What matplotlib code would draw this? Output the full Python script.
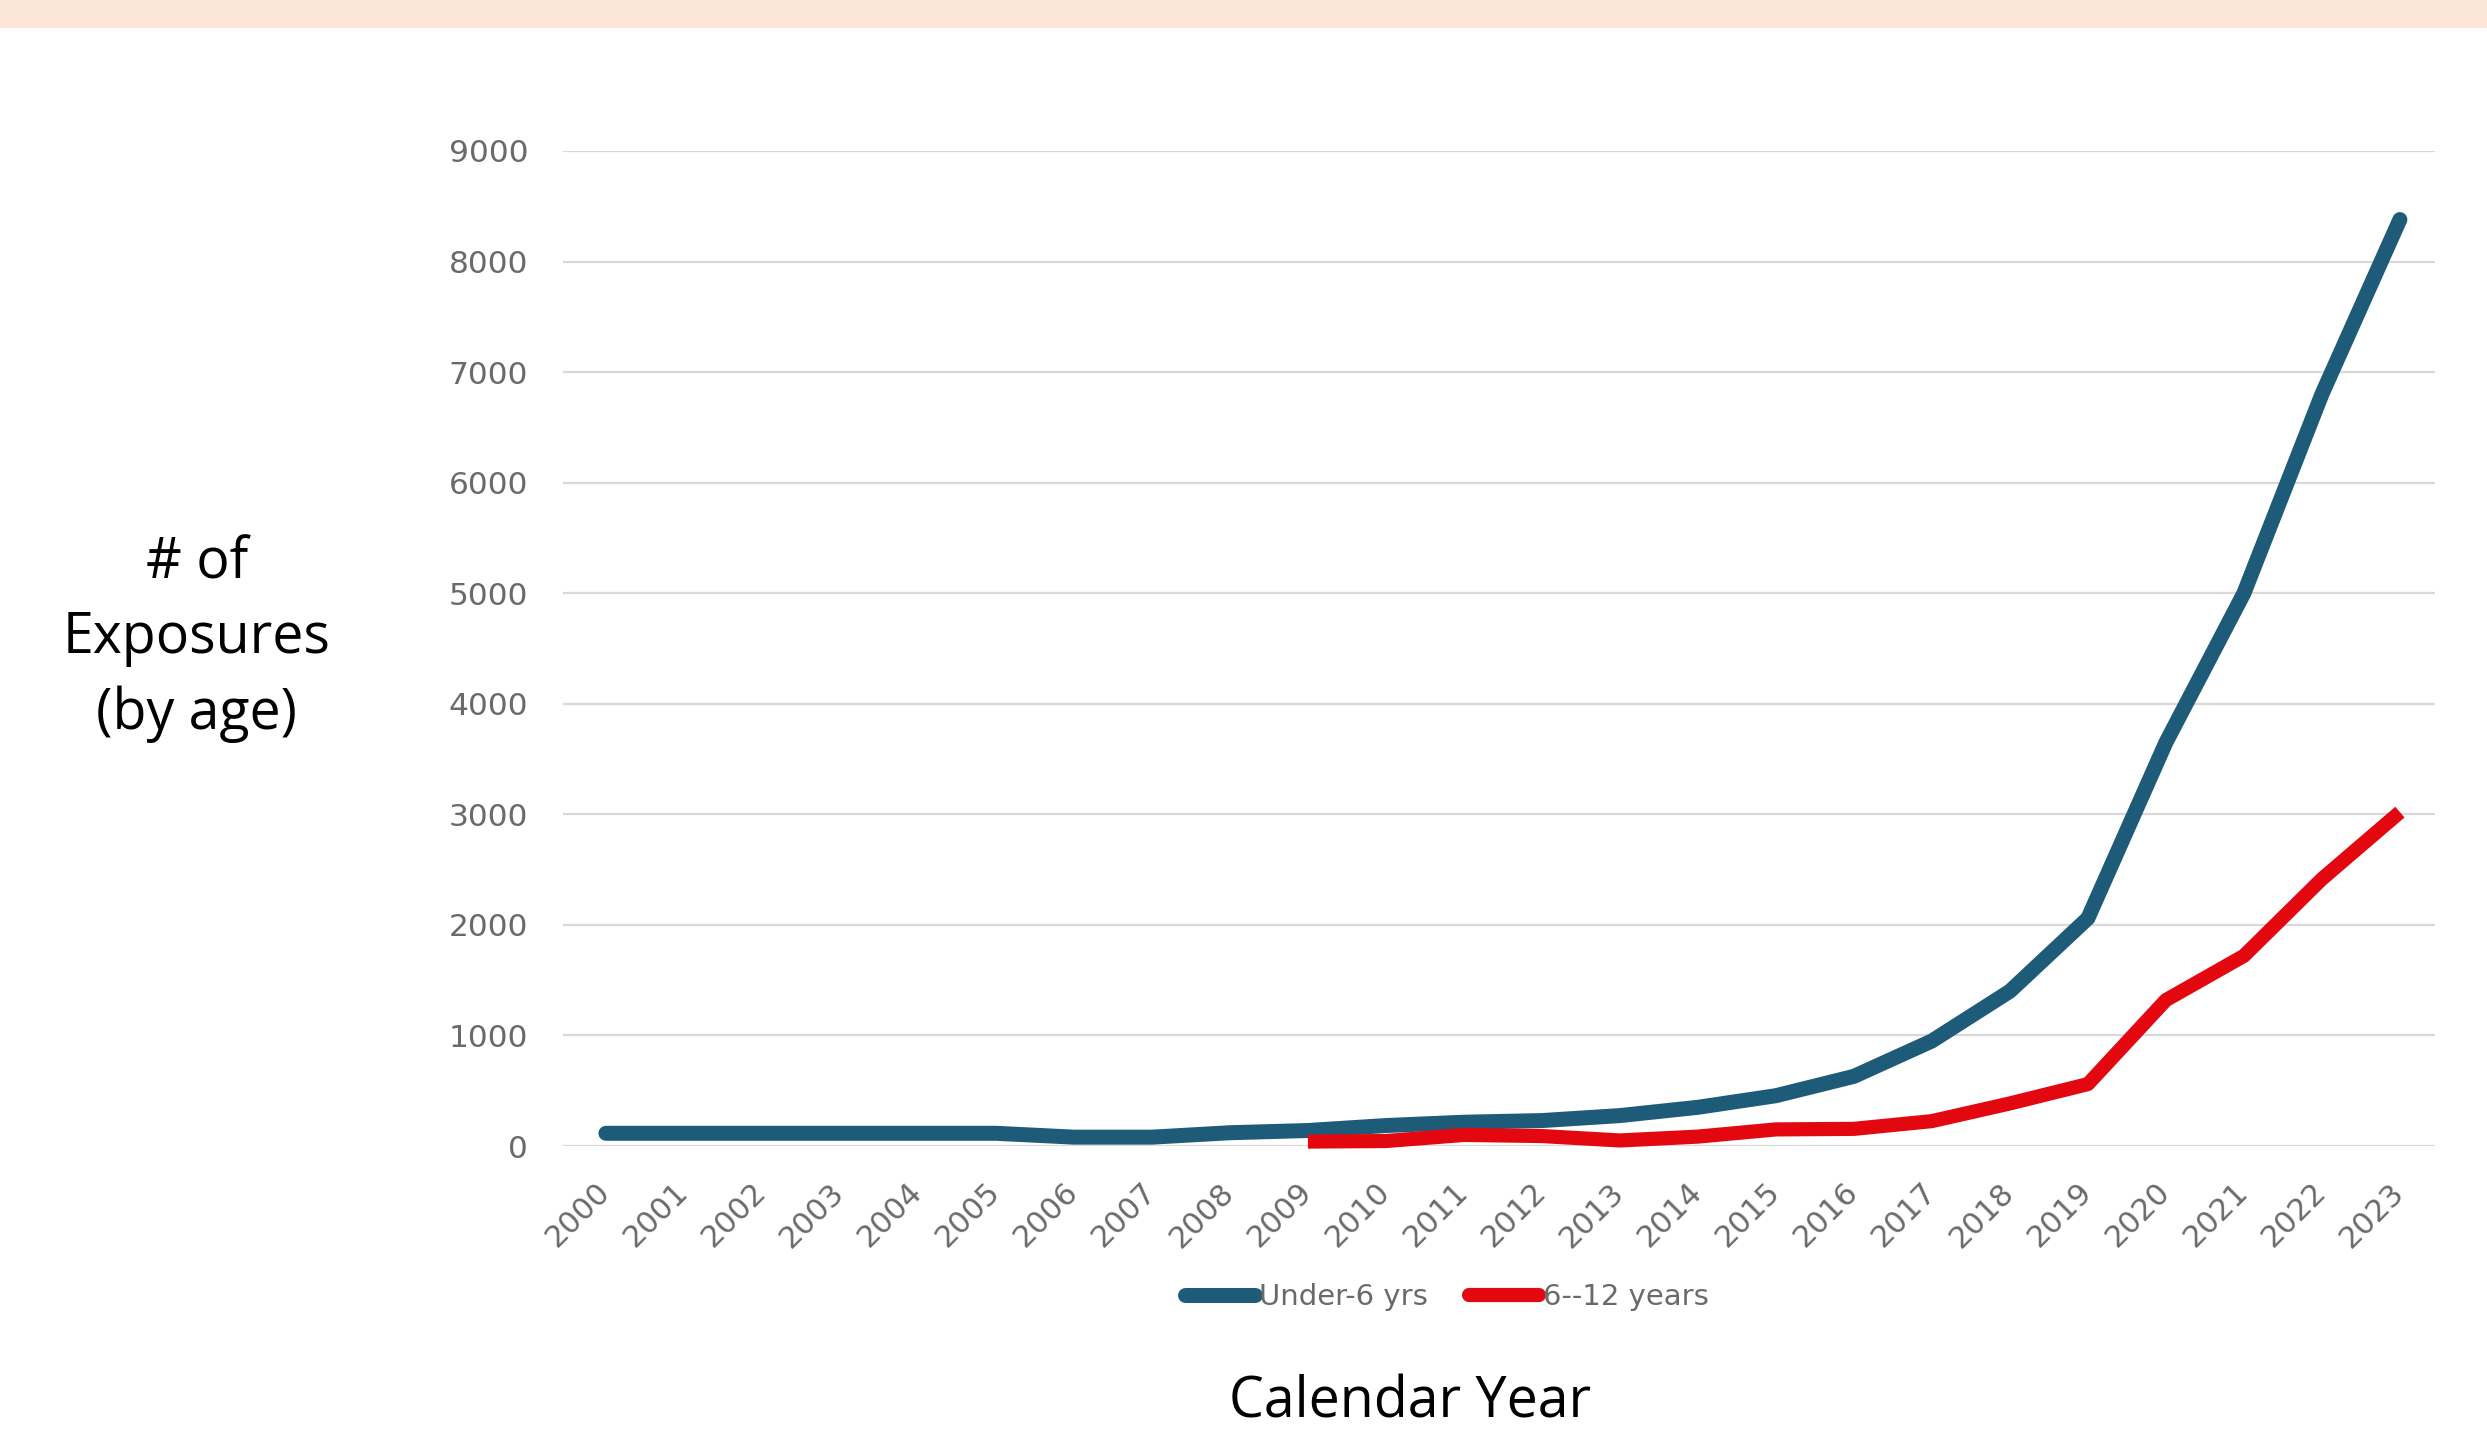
import matplotlib
matplotlib.use("Agg")
import matplotlib.pyplot as plt
from matplotlib.patches import Rectangle

years = [str(y) for y in range(2000, 2024)]
under6 = [115, 115, 115, 115, 115, 115, 80, 80, 120, 140, 185, 215, 230, 275, 350, 455, 630, 950, 1400, 2060, 3650, 5000, 6800, 8380]
age6_12_years = years[9:]
age6_12 = [40, 45, 100, 90, 50, 85, 150, 155, 225, 385, 560, 1320, 1720, 2415, 3020]
y_ticks = [0, 1000, 2000, 3000, 4000, 5000, 6000, 7000, 8000, 9000]

W, H = 2487, 1438
fig = plt.figure(figsize=(W / 100, H / 100), dpi=100)
fig.patch.set_facecolor("white")
fig.add_artist(Rectangle((0, 1 - 28 / H), 1, 28 / H, transform=fig.transFigure,
                         facecolor="#FBE5D6", edgecolor="none"))

ax = fig.add_axes([563 / W, 1 - 1146 / H, (2435 - 563) / W, (1146 - 151) / H])
x_all = list(range(len(years)))
x_sub = [years.index(y) for y in age6_12_years]

ax.plot(x_all, under6, color="#1E5B79", lw=10.8, solid_capstyle="round",
        solid_joinstyle="round", label="Under-6 yrs", clip_on=False, zorder=3)
ax.plot(x_sub, age6_12, color="#E3080F", lw=10.2, solid_capstyle="butt",
        solid_joinstyle="round", label="6--12 years", clip_on=False, zorder=4)

tick_color = "#6A6A6A"
ax.set_xlim(-0.55, 23.45)
ax.set_ylim(0, 9000)
ax.set_yticks(y_ticks)
ax.set_yticklabels([str(v) for v in y_ticks], fontsize=22.5, color=tick_color,
                   family="DejaVu Sans")
ax.set_xticks(x_all)
ax.set_xticklabels(years, rotation=45, ha="right", va="center", rotation_mode="anchor",
                   fontsize=22, color=tick_color, family="DejaVu Sans")
ax.tick_params(axis="y", length=0, pad=25)
ax.tick_params(axis="x", length=0, pad=30)
ax.grid(axis="y", color="#D9D9D9", lw=1.6)
ax.set_axisbelow(True)
for s in ax.spines.values():
    s.set_visible(False)

leg = ax.legend(loc="center", bbox_to_anchor=(1447 / W, 1 - 1297 / H),
                bbox_transform=fig.transFigure, ncol=2, frameon=False,
                handlelength=2.4, handletextpad=0.15, columnspacing=1.4,
                prop={"family": "DejaVu Sans", "size": 21})
for t in leg.get_texts():
    t.set_color(tick_color)
for h in leg.get_lines():
    h.set_solid_capstyle("round")

fig.text(197 / W, 1 - 639 / H, "# of\nExposures\n(by age)", ha="center", va="center",
         fontsize=40, family="Open Sans", color="black", linespacing=1.42)
fig.text(1410 / W, 1 - 1403 / H, "Calendar Year", ha="center", va="center",
         fontsize=40, family="Open Sans", color="black")

fig.savefig("out.png", dpi=100)
